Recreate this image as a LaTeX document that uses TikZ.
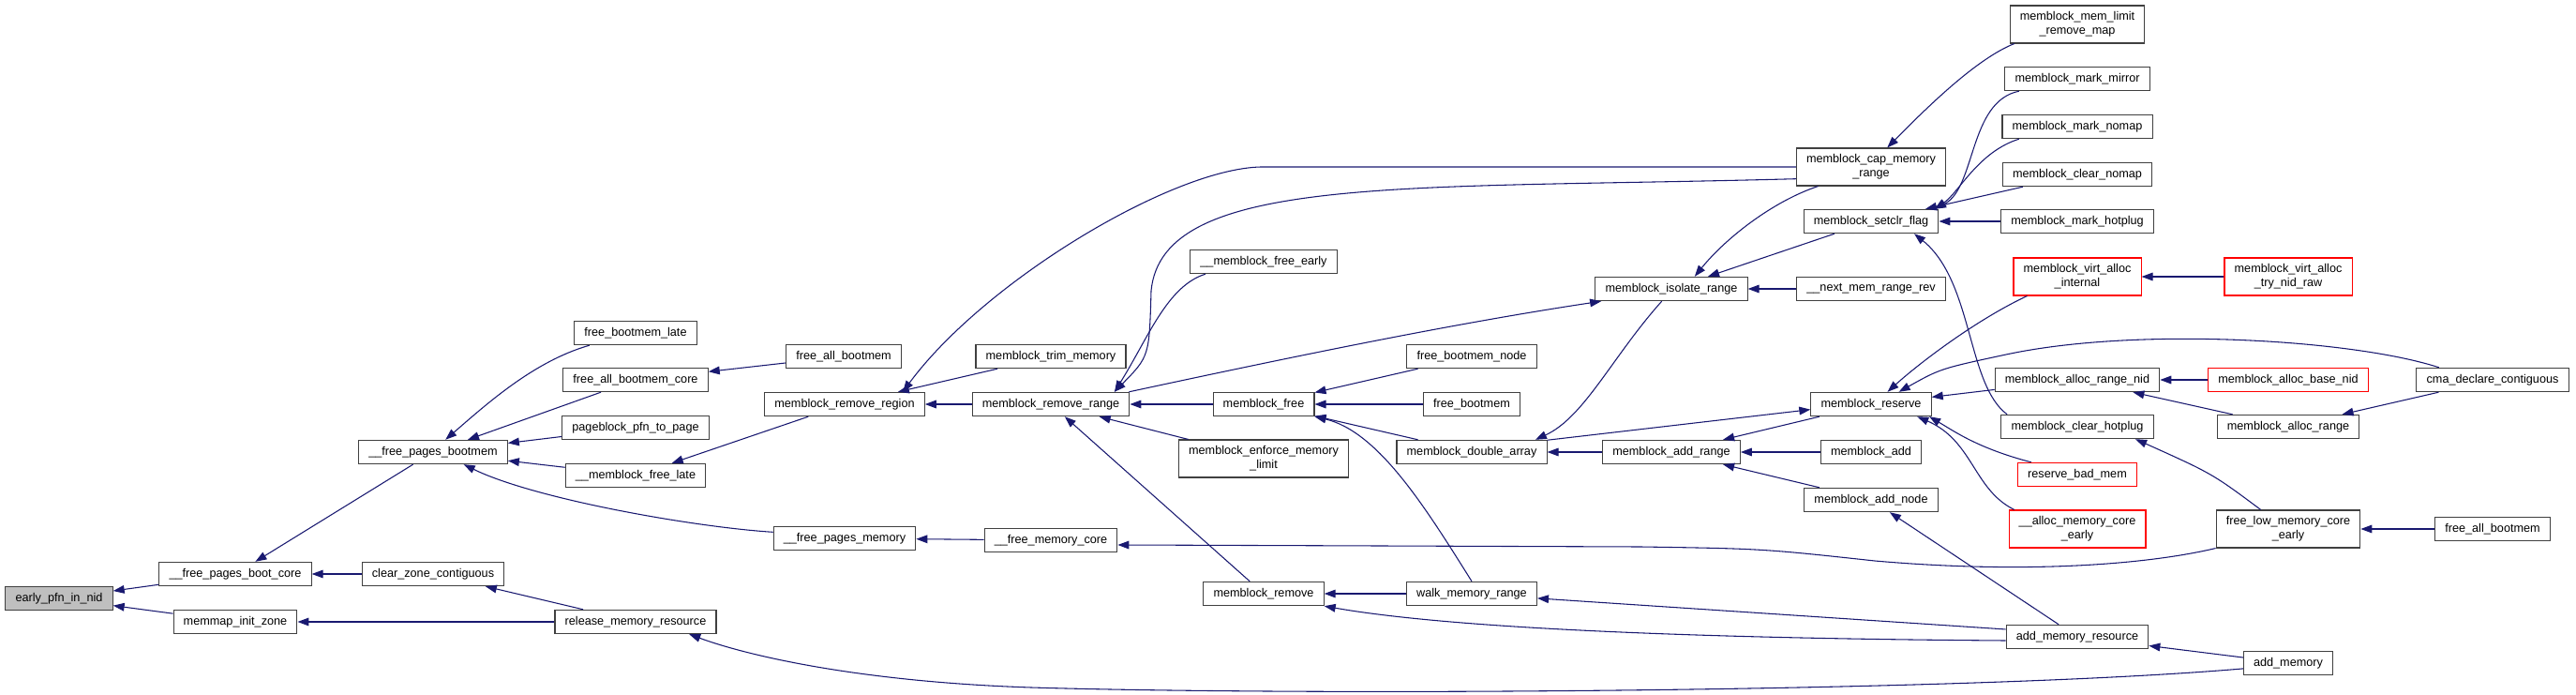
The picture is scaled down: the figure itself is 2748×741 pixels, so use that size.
\documentclass[tikz,border=0pt]{standalone}
\usepackage{fontspec}
\setmainfont{Liberation Sans}
\usepackage{xcolor}
\usepackage{tikz}
\usetikzlibrary{arrows.meta}
\definecolor{lnk}{HTML}{191970}
\definecolor{bdr}{HTML}{404040}
\definecolor{rootgray}{HTML}{BFBFBF}
\definecolor{cutred}{HTML}{FF0000}
\tikzset{
  every node/.style={font=\fontsize{9.5}{11.25}\selectfont},
  fn/.style={draw=bdr,line width=0.8pt,fill=white,align=center,
             inner xsep=8pt,inner ysep=2pt,minimum height=19pt},
  fn2/.style={fn,minimum height=30pt},
  rootfn/.style={fn,fill=rootgray},
  cut/.style={fn,draw=cutred},
  cut2/.style={fn2,draw=cutred},
  ar/.style={-{Triangle[length=9pt,width=6.5pt]},draw=lnk,line width=0.8pt},
}

\begin{document}
\begin{tikzpicture}[x=0.75pt,y=-0.75pt]
\useasboundingbox (0,0) rectangle (2748,741);
% nodes, column by column
\node[rootfn] (epin) at (63,638) {early\_pfn\_in\_nid};
\node[fn] (fpbc) at (251,612) {\_\_free\_pages\_boot\_core};
\node[fn] (mmiz) at (251,663) {memmap\_init\_zone};
\node[fn] (fpbm) at (462,482) {\_\_free\_pages\_bootmem};
\node[fn] (czc) at (462,612) {clear\_zone\_contiguous};
\node[fn] (fbl) at (678,355) {free\_bootmem\_late};
\node[fn] (fabc) at (678,405) {free\_all\_bootmem\_core};
\node[fn] (pbpp) at (678,456) {pageblock\_pfn\_to\_page};
\node[fn] (mfl) at (678,507) {\_\_memblock\_free\_late};
\node[fn] (rmr) at (678,663) {release\_memory\_resource};
\node[fn] (fab) at (900,380) {free\_all\_bootmem};
\node[fn] (mrreg) at (901,431) {memblock\_remove\_region};
\node[fn] (fpm) at (901,574) {\_\_free\_pages\_memory};
\node[fn] (mtm) at (1121,380) {memblock\_trim\_memory};
\node[fn] (mrrng) at (1121,431) {memblock\_remove\_range};
\node[fn] (fmc) at (1121,576) {\_\_free\_memory\_core};
\node[fn] (mfe) at (1348,279) {\_\_memblock\_free\_early};
\node[fn] (mfree) at (1348,431) {memblock\_free};
\node[fn2] (mlim) at (1348,489) {memblock\_enforce\_memory\\\_limit};
\node[fn] (mrem) at (1348,633) {memblock\_remove};
\node[fn] (fbn) at (1570,380) {free\_bootmem\_node};
\node[fn] (fbm) at (1570,431) {free\_bootmem};
\node[fn] (mda) at (1570,482) {memblock\_double\_array};
\node[fn] (wmr) at (1570,633) {walk\_memory\_range};
\node[fn] (mir) at (1783,308) {memblock\_isolate\_range};
\node[fn] (mar) at (1783,482) {memblock\_add\_range};
\node[fn2] (mcmr) at (1996,178) {memblock\_cap\_memory\\\_range};
\node[fn] (msf) at (1996,236) {memblock\_setclr\_flag};
\node[fn] (nmrr) at (1996,308) {\_\_next\_mem\_range\_rev};
\node[fn] (mres) at (1996,431) {memblock\_reserve};
\node[fn] (madd) at (1996,482) {memblock\_add};
\node[fn] (man) at (1996,533) {memblock\_add\_node};
\node[fn2] (mlrm) at (2216,26) {memblock\_mem\_limit\\\_remove\_map};
\node[fn] (mmm) at (2216,84) {memblock\_mark\_mirror};
\node[fn] (mmn) at (2216,135) {memblock\_mark\_nomap};
\node[fn] (mcn) at (2216,186) {memblock\_clear\_nomap};
\node[fn] (mmh) at (2216,236) {memblock\_mark\_hotplug};
\node[cut2] (mvai) at (2216,295) {memblock\_virt\_alloc\\\_internal};
\node[fn] (marn) at (2216,405) {memblock\_alloc\_range\_nid};
\node[fn] (mch) at (2216,455) {memblock\_clear\_hotplug};
\node[cut] (rbm) at (2216,506) {reserve\_bad\_mem};
\node[cut2] (amce) at (2216,564) {\_\_alloc\_memory\_core\\\_early};
\node[fn] (amr) at (2216,679) {add\_memory\_resource};
\node[cut2] (mvat) at (2441,295) {memblock\_virt\_alloc\\\_try\_nid\_raw};
\node[cut] (mabn) at (2441,405) {memblock\_alloc\_base\_nid};
\node[fn] (malr) at (2441,455) {memblock\_alloc\_range};
\node[fn2] (flmce) at (2441,564) {free\_low\_memory\_core\\\_early};
\node[fn] (am) at (2441,707) {add\_memory};
\node[fn] (cdc) at (2659,405) {cma\_declare\_contiguous};
\node[fn] (fab2) at (2659,564) {free\_all\_bootmem};
% calls
\draw[ar] (fpbc) -- (epin);
\draw[ar] (mmiz) -- (epin);
\draw[ar] (fpbm) -- (fpbc);
\draw[ar] (czc) -- (fpbc);
\draw[ar] (rmr) -- (mmiz);
\draw[ar] (rmr) -- (czc);
\draw[ar] (fbl.195) .. controls (570,385) and (520,430) .. (fpbm.45);
\draw[ar] (fabc) -- (fpbm);
\draw[ar] (pbpp) -- (fpbm);
\draw[ar] (mfl) -- (fpbm);
\draw[ar] (fpm.175) .. controls (740,562) and (570,532) .. (fpbm.-22);
\draw[ar] (fab) -- (fabc);
\draw[ar] (mrreg) -- (mfl);
\draw[ar] (mrrng) -- (mrreg);
\draw[ar] (mtm) -- (mrreg);
\draw[ar] (mcmr.west) -- (1345,178) .. controls (1250,180) and (1050,300) .. (mrreg.12);
\draw[ar] (fmc) -- (fpm);
\draw[ar] (mcmr.189) .. controls (1500,202) and (1240,185) .. (1228,310) .. controls (1226,380) .. (mrrng.11);
\draw[ar] (mfe.192) .. controls (1245,305) and (1225,360) .. (mrrng.11);
\draw[ar] (mrrng.9) .. controls (1380,380) and (1550,345) .. (mir.190);
\draw[ar] (mfree) -- (mrrng);
\draw[ar] (mlim) -- (mrrng);
\draw[ar] (mrem) -- (mrrng);
\draw[ar] (flmce.south west) .. controls (2290,602) and (2160,612) .. (2000,598) .. controls (1880,585) .. (1750,583) -- (fmc.-4);
\draw[ar] (fbn) -- (mfree);
\draw[ar] (fbm) -- (mfree);
\draw[ar] (mda) -- (mfree);
\draw[ar] (wmr.north) .. controls (1520,540) and (1470,460) .. (mfree.south east);
\draw[ar] (wmr) -- (mrem);
\draw[ar] (amr.183) .. controls (1850,681) and (1560,672) .. (mrem.south east);
\draw[ar] (amr.174) -- (wmr.-4);
\draw[ar] (mir.-128) .. controls (1720,380) and (1690,445) .. (mda.11);
\draw[ar] (mar) -- (mda);
\draw[ar] (mda.9) -- (mres.185);
\draw[ar] (mcmr.200) .. controls (1890,215) and (1840,255) .. (mir.28);
\draw[ar] (msf) -- (mir);
\draw[ar] (nmrr) -- (mir);
\draw[ar] (mres) -- (mar);
\draw[ar] (madd) -- (mar);
\draw[ar] (man) -- (mar);
\draw[ar] (mlrm.197) .. controls (2110,62) and (2060,110) .. (mcmr.50);
\draw[ar] (mmm.192) .. controls (2100,108) and (2108,200) .. (msf.11);
\draw[ar] (mmn.192) .. controls (2110,162) and (2090,205) .. (msf.11);
\draw[ar] (mcn) -- (msf);
\draw[ar] (mmh) -- (msf);
\draw[ar] (mch.170) .. controls (2098,410) and (2105,300) .. (msf.-16);
\draw[ar] (mvai.201) .. controls (2110,340) and (2050,385) .. (mres.37);
\draw[ar] (cdc.167) .. controls (2510,362) and (2280,348) .. (2140,378) .. controls (2070,393) .. (mres.24);
\draw[ar] (marn) -- (mres);
\draw[ar] (rbm.165) .. controls (2110,478) and (2085,460) .. (mres.-12);
\draw[ar] (amce.163) .. controls (2105,522) and (2105,470) .. (mres.-15);
\draw[ar] (amr) -- (man);
\draw[ar] (mvat) -- (mvai);
\draw[ar] (mabn) -- (marn);
\draw[ar] (malr) -- (marn);
\draw[ar] (flmce.145) .. controls (2360,505) .. (mch.-12);
\draw[ar] (cdc) -- (malr);
\draw[ar] (fab2) -- (flmce);
\draw[ar] (am) -- (amr);
\draw[ar] (am.187) .. controls (2100,738) and (1400,742) .. (1100,733) .. controls (920,727) and (800,700) .. (rmr.-13);
\end{tikzpicture}
\end{document}
